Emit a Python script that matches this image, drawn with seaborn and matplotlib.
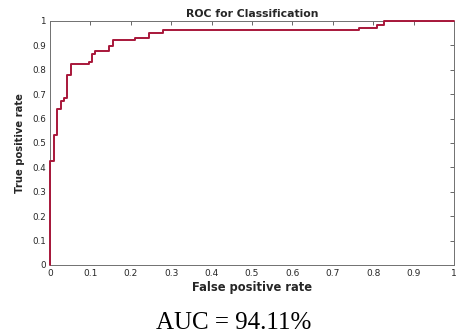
import matplotlib
matplotlib.use("Agg")
import matplotlib.pyplot as plt
import seaborn as sns
import pandas as pd
import numpy as np

# ROC curve corner points (steps-pre: vertical rise at previous x, then horizontal)
fpr = [0.0, 0.010, 0.018, 0.027, 0.034, 0.043, 0.051, 0.096, 0.104, 0.112,
       0.147, 0.156, 0.210, 0.244, 0.280, 0.766, 0.809, 0.827, 1.0]
tpr = [0.0, 0.427, 0.534, 0.639, 0.673, 0.686, 0.779, 0.824, 0.833, 0.865,
       0.878, 0.899, 0.921, 0.929, 0.952, 0.963, 0.971, 0.985, 1.0]
ticks = [0, 0.1, 0.2, 0.3, 0.4, 0.5, 0.6, 0.7, 0.8, 0.9, 1]
tick_labels = ["0", "0.1", "0.2", "0.3", "0.4", "0.5", "0.6", "0.7", "0.8", "0.9", "1"]
title = "ROC for Classification"
auc_text = "AUC = 94.11%"

sns.set_style("white")
plt.rcParams['font.family'] = ['DejaVu Sans']

df = pd.DataFrame({"fpr": fpr, "tpr": tpr})

fig = plt.figure(figsize=(4.58, 3.33), dpi=100)
ax = fig.add_axes([50/458, 1-265/333, 404/458, 244/333])

sns.lineplot(data=df, x="fpr", y="tpr", sort=False, estimator=None,
             drawstyle="steps-pre", color="#A8173A", linewidth=1.4,
             clip_on=False, zorder=5, ax=ax)

ax.set_xlim(0, 1)
ax.set_ylim(0, 1)
ax.set_xticks(ticks)
ax.set_xticklabels(tick_labels)
ax.set_yticks(ticks)
ax.set_yticklabels(tick_labels)
ax.tick_params(direction="in", length=3, width=0.7, colors="#666666",
               labelcolor="#262626", top=True, right=True, pad=3)
ax.tick_params(axis="x", labelsize=6.5)
ax.tick_params(axis="y", labelsize=6.3)
for s in ax.spines.values():
    s.set_color("#707070")
    s.set_linewidth(0.7)

ax.set_xlabel("False positive rate", fontsize=8.3, fontweight="bold", color="#262626", labelpad=2)
ax.set_ylabel("True positive rate", fontsize=7.2, fontweight="bold", color="#262626", labelpad=5)
ax.set_title(title, fontsize=7.8, fontweight="bold", color="#262626", pad=3)

fig.text(234/458, 1-329/333, auc_text, ha="center", va="baseline",
         fontsize=18, family=["Liberation Serif", "DejaVu Serif"], color="black")

fig.savefig("out.png", dpi=100)
